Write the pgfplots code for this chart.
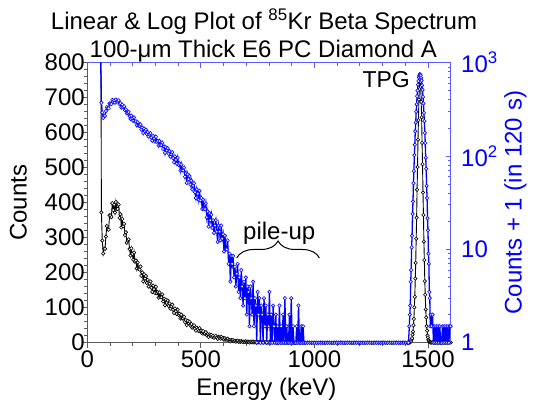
\documentclass[border=0pt]{standalone}
\usepackage{fontspec}
\setmainfont{Liberation Sans}
\usepackage{pgfplots}
\pgfplotsset{compat=1.18}
\usepackage{pgfplotstable}
\usetikzlibrary{decorations.pathreplacing}
\definecolor{spblue}{RGB}{0,0,255}
\definecolor{axblue}{RGB}{90,90,255}
\definecolor{axgray}{RGB}{90,90,90}

\pgfplotstableread{
E c
58 1450
62 372
66 292
70 255
74 269.5
78 268
82 303
86 333.5
90 324
94 323
98 364
102 363.5
106 359
110 398.5
114 379
118 394
122 372
126 402
130 381.5
134 382
138 394.5
142 356.5
146 367
150 329.5
154 353.5
158 332.5
162 339.5
166 307.5
170 315.5
174 285.5
178 291.5
182 295.5
186 267.5
190 249
194 269.5
198 253.5
202 237
206 257.5
210 231.5
214 235
218 212
222 229.5
226 210.5
230 209
234 217.5
238 191
242 200.5
246 175.5
250 195.5
254 183
258 190.5
262 170.5
266 179.5
270 160.5
274 169
278 175
282 157
286 145
290 163
294 153
298 142
302 159.5
306 141
310 144.5
314 128.5
318 143.5
322 130
326 130
330 138
334 118
338 125.5
342 107
346 123
350 114
354 120.5
358 105
362 112
366 97.5
370 103.5
374 109
378 94
382 85
386 98
390 90
394 82
398 94.5
402 79.5
406 82.5
410 69
414 80
418 69
422 69
426 74
430 59
434 64.5
438 50.5
442 62.5
446 55.5
450 60
454 48.5
458 53.5
462 43
466 47
470 50
474 40
478 34.5
482 43
486 38.5
490 33
494 41.5
498 32.5
502 34.5
506 26
510 33
514 26
518 26
522 30
526 21
530 24.5
534 16.5
538 23.5
542 19.5
546 22.5
550 16
554 19.5
558 14
562 17
566 19.5
570 14.5
574 11
578 17
582 14.5
586 11.5
590 17
594 12
598 13.5
602 8.5
606 13
610 9
614 9
618 11.5
622 6
626 8
630 3.5
634 7.5
638 6
642 7.5
646 4
650 5.5
654 3
658 4.5
662 6
666 2.5
670 4
674 2
678 5
682 3
686 1.5
690 3.5
694 2
698 4
702 1
706 3
710 2.5
714 0.5
718 3
722 2
726 1
730 3.5
734 0.5
738 2
742 1.5
746 0
750 2.5
754 1
758 2
762 0
766 1.5
770 1
774 0
778 2
782 0.5
786 1.5
790 0
794 1
798 0.5
802 2.5
806 0
810 1
814 0
818 1.5
822 0.5
826 0
830 1
834 0
838 0.5
842 0
846 1.5
850 0
854 0.5
858 0
862 1
866 0
870 2
874 0
878 0.5
882 0
886 0
890 1
894 0
898 2
902 0
906 0.5
910 0
914 0
918 0
922 0.5
926 0
930 1.5
934 0
938 0
942 0.5
946 0
950 0.5
954 0
962 0
970 0
978 0
986 0
994 0
1002 0
1010 0
1018 0
1026 0
1034 0
1042 0
1050 0
1058 0
1066 0
1074 0
1082 0
1090 0
1098 0
1106 0
1114 0
1122 0
1130 0
1138 0
1146 0
1154 0
1162 0
1170 0
1178 0
1186 0
1194 0
1202 0
1210 0
1218 0
1226 0
1234 0
1242 0
1250 0
1258 0
1266 0
1274 0
1282 0
1290 0
1298 0
1306 0
1314 0
1322 0
1330 0
1338 0
1346 0
1354 0
1362 0
1370 0
1378 0
1386 0
1394 0
1402 0
1410 0
1414 0
1418 0.5
1420 1
1422 1.5
1424 3.5
1426 5
1428 9.5
1430 13
1432 23
1434 31.5
1436 50
1438 68
1440 101
1442 131
1444 183
1446 228
1448 297
1450 357
1452 437
1454 502
1456 580
1458 636
1460 695
1462 724
1464 752
1466 745
1468 731
1470 688
1472 644
1474 571
1476 510
1478 429
1480 365
1482 289
1484 236
1486 176
1488 137
1490 95
1492 72
1494 47
1496 34.5
1498 20.5
1500 15
1502 8
1504 6
1506 2.5
1508 2
1510 0.5
1512 1
1516 0.5
1520 1
1524 0
1528 0.5
1532 0
1536 0.5
1540 0
1544 0.5
1548 0
1552 0.5
1556 0
1560 0
1564 0.5
1568 0
1572 0.5
1576 0
1580 0.5
1584 0
1588 0.5
1592 0
1596 0.5
1600 0.5
}\spec

\begin{document}
\begin{tikzpicture}[font=\fontsize{24}{28}\selectfont]
\pgfplotsset{
  common/.style={scale only axis, width=363.4pt, height=280pt,
    xmin=0, xmax=1600,
    xtick={0,500,1000,1500}, minor x tick num=4,
    major tick length=5pt, minor tick length=3pt,
    ticklabel style={font=\fontsize{24}{28}\selectfont},
  },
}
\begin{axis}[common, name=ax,
  axis x line=bottom, axis y line=left,
  axis line style={-, axgray, line width=1pt},
  tick align=outside,
  tick style={color=axgray, line width=0.8pt},
  ymin=0, ymax=800, ytick={0,100,...,800}, minor y tick num=4,
  xticklabels={0,500,1000,1500},
  yticklabels={0,100,200,300,400,500,600,700,800},
  yticklabel style={xshift=6pt},
]
\addplot[black, line width=0.9pt, mark=*, mark size=1.7pt,
  mark options={fill=white, draw=black, line width=0.6pt}]
  table[x=E, y=c]{\spec};
\node[anchor=base east, inner sep=0pt, font=\fontsize{23}{27}\selectfont] at (axis cs:1421,730) {TPG};
\node[anchor=base] at (axis cs:845,295) {pile-up};
\draw[decorate, decoration={brace, amplitude=17pt}, line width=1pt]
  (axis cs:658,242) -- (axis cs:1022,242);
\end{axis}
\begin{axis}[common,
  axis x line=top, axis y line=right,
  axis line style={-, axblue, line width=1pt},
  tick align=inside,
  tick style={color=axblue, line width=0.8pt},
  ymode=log, ymin=1, ymax=1000,
  xticklabels={},
  ytick={1,10,100,1000},
  minor ytick={2,3,4,5,6,7,8,9,20,30,40,50,60,70,80,90,200,300,400,500,600,700,800,900},
  yticklabels={1,10,10\textsuperscript{2},10\textsuperscript{3}},
  yticklabel style={text=spblue, xshift=7pt},
]
\addplot[spblue, line width=1.3pt, mark=*, mark size=1.7pt,
  mark options={fill=white, draw=spblue, line width=0.6pt}]
  table[x=E, y expr=\thisrow{c}+1]{\spec};
\end{axis}
\node[anchor=base] at ([xshift=176.7pt, yshift=33.4pt]ax.north west)
  {Linear \& Log Plot of \textsuperscript{85}Kr Beta Spectrum};
\node[anchor=base] at ([xshift=176pt, yshift=5.4pt]ax.north west)
  {100-μm Thick E6 PC Diamond A};
\node[anchor=base] at ([xshift=179.1pt, yshift=-52.5pt]ax.south west) {Energy (keV)};
\node[rotate=90, anchor=center] at ([xshift=-69pt]ax.west) {Counts};
\node[rotate=90, anchor=center, text=spblue] at ([xshift=64.8pt]ax.east) {Counts + 1 (in 120 s)};
\pgfresetboundingbox
\path[use as bounding box] ([xshift=-87.3pt, yshift=-58.3pt]ax.south west)
  rectangle ([xshift=85.3pt, yshift=62.7pt]ax.north east);
\end{tikzpicture}
\end{document}
